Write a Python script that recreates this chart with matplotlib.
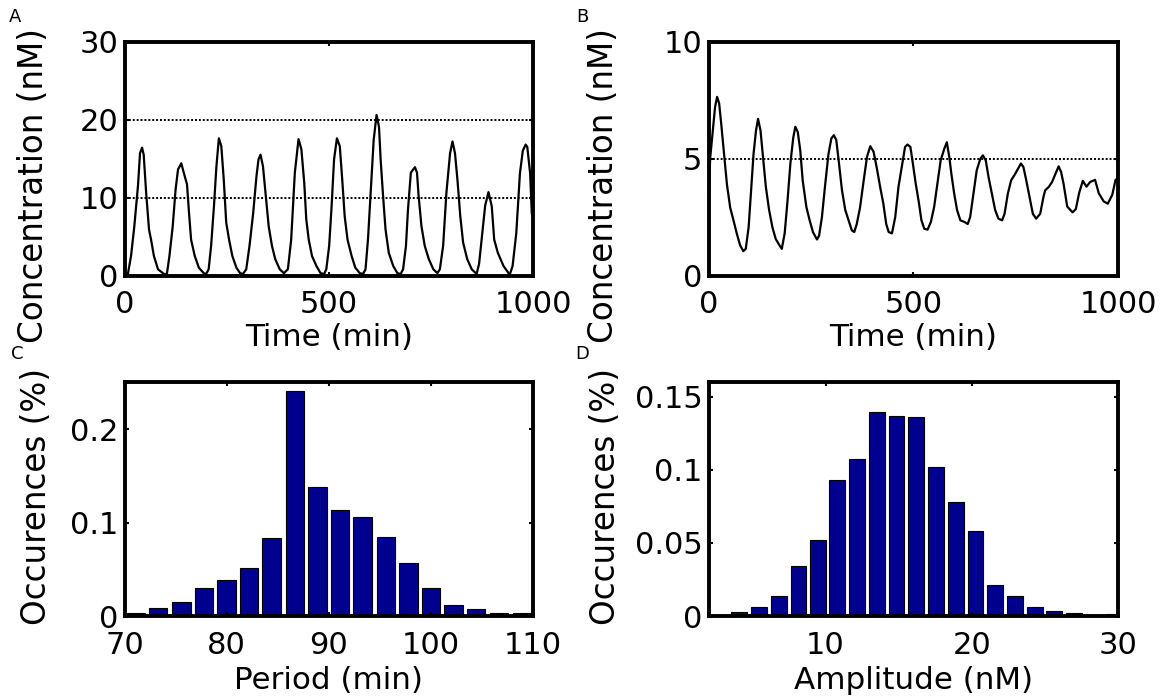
import matplotlib
matplotlib.use('Agg')
import matplotlib.pyplot as plt

plt.rcParams['font.family'] = ['DejaVu Sans']

# ---------------- Panel A: time series (oscillating) ----------------
tA = [0, 8, 16, 24, 33, 38, 43, 47, 53, 60, 65, 72, 82, 94, 100,
      104, 110, 118, 125, 131, 139, 145, 153, 158, 163, 172, 182, 194, 200,
      206, 212, 219, 225, 231, 237, 243, 249, 256, 264, 274, 283, 290,
      298, 306, 315, 323, 328, 333, 339, 346, 353, 361, 369, 380, 390,
      400, 408, 417, 426, 433, 440, 445, 451, 459, 470, 480, 489,
      494, 501, 507, 513, 520, 527, 533, 539, 546, 556, 565, 576, 584,
      590, 596, 603, 610, 617, 623, 627, 633, 639, 647, 658, 668, 676,
      682, 689, 694, 701, 711, 716, 720, 727, 735, 745, 756, 766,
      772, 780, 788, 797, 803, 809, 815, 822, 829, 839, 850, 862,
      868, 875, 883, 891, 899, 905, 914, 928, 943,
      950, 959, 968, 975, 982, 986, 993, 997, 1000]
vA = [0, 0.1, 2.5, 6.3, 11.5, 15.7, 16.4, 15.5, 10.6, 5.9, 4.6, 2.5, 0.8, 0.3, 0.1,
      0.3, 2.5, 6.3, 11.0, 13.6, 14.4, 13.2, 11.7, 8.0, 4.6, 2.5, 1.0, 0.3, 0.2,
      0.8, 3.8, 8.9, 14.0, 17.6, 16.6, 12.3, 6.8, 4.6, 2.5, 1.0, 0.3, 0.2,
      0.8, 3.8, 8.0, 12.7, 14.9, 15.5, 14.0, 10.2, 6.3, 3.8, 2.1, 0.8, 0.3,
      0.8, 4.6, 13.2, 17.5, 16.2, 11.9, 7.2, 4.6, 2.5, 1.2, 0.3, 0.2,
      0.8, 3.8, 8.9, 14.9, 17.6, 16.6, 12.3, 7.6, 4.6, 2.5, 1.0, 0.3, 0.2,
      0.8, 4.6, 11.0, 17.4, 20.6, 19.1, 14.9, 10.2, 5.9, 2.9, 1.2, 0.3, 0.2,
      0.8, 3.8, 8.5, 13.2, 13.9, 13.2, 10.2, 6.3, 3.8, 2.1, 0.8, 0.3,
      0.8, 3.8, 10.6, 15.7, 17.2, 15.7, 12.3, 7.6, 4.2, 2.1, 0.8, 0.2,
      1.5, 5.0, 9.0, 10.7, 8.9, 4.6, 2.9, 1.2, 0.1,
      1.2, 5.4, 13.1, 16.0, 16.8, 16.5, 13.1, 8.0, 7.5]
refA = [10, 20]

# ---------------- Panel B: time series (damped) ----------------
tB = [0, 1, 4, 10, 16, 21, 26, 31, 37, 45, 53, 61, 69, 77, 85, 91, 98, 104,
      110, 116, 121, 127, 133, 140, 148, 156, 164, 173, 179, 186, 193, 200,
      207, 212, 218, 224, 230, 239, 247, 255, 265, 270, 277, 285, 293, 300,
      306, 312, 318, 326, 334, 342, 350, 356, 362, 370, 379, 387, 395, 403,
      411, 419, 427, 434, 440, 448, 456, 464, 472, 480, 486, 493, 499, 506,
      513, 520, 527, 535, 543, 551, 559, 567, 572, 576, 582, 588, 593, 600,
      607, 615, 625, 633, 639, 647, 655, 664, 670, 677, 684, 692, 700, 708,
      717, 723, 731, 739, 747, 763, 769, 776, 784, 792, 800, 810, 818, 822,
      831, 839, 855, 861, 867, 876, 889, 897, 905, 914, 923, 932, 944, 953,
      965, 975, 986, 994, 1000]
vB = [0, 3.5, 5.0, 6.1, 7.2, 7.64, 7.36, 6.5, 5.4, 3.9, 2.9, 2.36, 1.8, 1.3, 1.04, 1.14, 2.07, 3.64,
      5.2, 6.2, 6.7, 6.2, 5.07, 3.8, 2.8, 2.07, 1.57, 1.3, 1.14, 1.8, 3.2, 4.8,
      5.9, 6.36, 6.14, 5.36, 4.07, 2.93, 2.36, 1.86, 1.54, 1.7, 2.5, 3.9, 5.2, 5.86,
      6.0, 5.8, 4.9, 3.64, 2.8, 2.36, 1.93, 1.86, 2.2, 2.9, 4.07, 5.07, 5.53, 5.3,
      4.6, 3.8, 3.07, 2.2, 1.86, 1.8, 2.5, 3.8, 4.64, 5.5, 5.6, 5.5, 4.8, 3.93,
      3.2, 2.36, 2.0, 1.96, 2.29, 2.93, 3.93, 4.93, 5.2, 5.43, 5.7, 5.07, 4.36, 3.5,
      2.8, 2.36, 2.29, 2.2, 2.5, 3.5, 4.5, 5.0, 5.14, 4.93, 4.2, 3.5, 2.8, 2.43,
      2.36, 2.64, 3.5, 4.07, 4.29, 4.79, 4.64, 4.07, 3.36, 2.64, 2.43, 2.64, 3.36, 3.64,
      3.79, 4.0, 4.67, 4.43, 3.93, 2.95, 2.7, 2.84, 3.52, 4.05, 3.8, 4.0, 4.09, 3.52,
      3.17, 3.07, 3.45, 4.09, 4.16]
refB = [5]

# ---------------- Panel C: period histogram ----------------
period_centers = [71.1, 73.3, 75.6, 77.8, 80.0, 82.2, 84.4, 86.7, 88.9,
                  91.1, 93.3, 95.6, 97.8, 100.0, 102.2, 104.4, 106.7, 108.9]
period_freq = [0.0036, 0.0089, 0.015, 0.0296, 0.0386, 0.051, 0.0836, 0.2404, 0.1375,
               0.113, 0.106, 0.0846, 0.0564, 0.0296, 0.0114, 0.0079, 0.0036, 0.0036]

# ---------------- Panel D: amplitude histogram ----------------
amp_centers = [4.1, 5.45, 6.8, 8.15, 9.5, 10.8, 12.15, 13.5, 14.85, 16.2,
               17.55, 18.9, 20.25, 21.6, 22.95, 24.3, 25.65, 27.0, 28.35, 29.7]
amp_freq = [0.0025, 0.006, 0.0135, 0.0345, 0.052, 0.093, 0.1075, 0.140, 0.137, 0.136,
            0.102, 0.078, 0.058, 0.0215, 0.014, 0.006, 0.0035, 0.002, 0.0003, 0.0015]

xticksA = [0, 500, 1000]
yticksA = [0, 10, 20, 30]
yticksB = [0, 5, 10]
xticksC = [70, 80, 90, 100, 110]
yticksC = [0, 0.1, 0.2]
yticklabelsC = ['0', '0.1', '0.2']
xticksD = [10, 20, 30]
yticksD = [0, 0.05, 0.1, 0.15]
yticklabelsD = ['0', '0.05', '0.1', '0.15']

W, H = 1163, 698
fig = plt.figure(figsize=(W / 100, H / 100), dpi=100)


def box(l, t, r, b):
    return [l / W, 1 - b / H, (r - l) / W, (b - t) / H]


def style(ax):
    for s in ax.spines.values():
        s.set_linewidth(2.8)
        s.set_color('black')
        s.set_zorder(5)
    ax.tick_params(direction='in', length=3, width=1.5, top=True, right=True,
                   labelsize=22, colors='black')
    ax.tick_params(axis='x', pad=10.5)
    ax.tick_params(axis='y', pad=4.5)


NAVY = '#00008f'
DOT = (0, (1, 1))

axA = fig.add_axes(box(124.5, 41.7, 533, 275.5))
axB = fig.add_axes(box(708.5, 41.7, 1118, 275.5))
axC = fig.add_axes(box(124.5, 382.3, 533, 616))
axD = fig.add_axes(box(708.5, 382.3, 1118, 616))

# A
axA.plot(tA, vA, color='black', lw=1.6)
for r in refA:
    axA.axhline(r, color='black', lw=1.4, ls=DOT)
axA.set_xlim(0, 1000)
axA.set_ylim(0, 30)
axA.set_xticks(xticksA)
axA.set_yticks(yticksA)
style(axA)
axA.set_xlabel('Time (min)', fontsize=22.3)
axA.xaxis.set_label_coords(0.5, -0.203)
axA.set_ylabel('Concentration (nM)', fontsize=23.5)
axA.yaxis.set_label_coords(-0.182, 0.386)

# B
axB.plot(tB, vB, color='black', lw=1.6)
for r in refB:
    axB.axhline(r, color='black', lw=1.4, ls=DOT)
axB.set_xlim(0, 1000)
axB.set_ylim(0, 10)
axB.set_xticks(xticksA)
axB.set_yticks(yticksB)
style(axB)
axB.set_xlabel('Time (min)', fontsize=22.3)
axB.xaxis.set_label_coords(0.5, -0.203)
axB.set_ylabel('Concentration (nM)', fontsize=23.5)
axB.yaxis.set_label_coords(-0.216, 0.386)

# C
axC.bar(period_centers, period_freq, width=1.8, color=NAVY, edgecolor='black', linewidth=0.8)
axC.set_xlim(70, 110)
axC.set_ylim(0, 0.25)
axC.set_xticks(xticksC)
axC.set_yticks(yticksC)
axC.set_yticklabels(yticklabelsC)
style(axC)
axC.set_xlabel('Period (min)', fontsize=22.3)
axC.xaxis.set_label_coords(0.5, -0.213)
axC.set_ylabel('Occurences (%)', fontsize=23.5)
axC.yaxis.set_label_coords(-0.175, 0.51)

# D
axD.bar(amp_centers, amp_freq, width=1.08, color=NAVY, edgecolor='black', linewidth=0.8)
axD.set_xlim(2, 30)
axD.set_ylim(0, 0.16)
axD.set_xticks(xticksD)
axD.set_yticks(yticksD)
axD.set_yticklabels(yticklabelsD)
style(axD)
axD.set_xlabel('Amplitude (nM)', fontsize=22.3)
axD.xaxis.set_label_coords(0.5, -0.213)
axD.set_ylabel('Occurences (%)', fontsize=23.5)
axD.yaxis.set_label_coords(-0.211, 0.51)

# panel letters
for txt, x, y in [('A', 9, 8), ('B', 576, 8), ('C', 11, 345), ('D', 575, 345)]:
    fig.text(x / W, 1 - y / H, txt, fontsize=13, ha='left', va='top')

fig.savefig('out.png', dpi=100)
